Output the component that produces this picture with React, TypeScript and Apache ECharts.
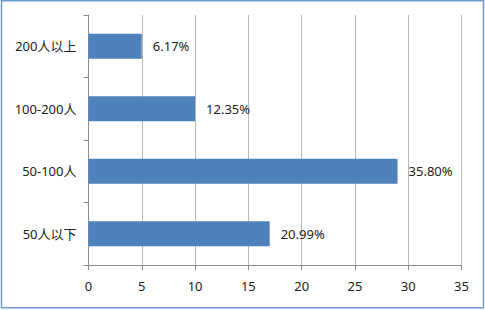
import React, { useEffect, useRef } from "react";
import * as echarts from "echarts";

const categories = ["50人以下", "50-100人", "100-200人", "200人以上"];
const values = [17, 29, 10, 5];
const percentLabels = ["20.99%", "35.80%", "12.35%", "6.17%"];
const xTicks = { min: 0, max: 35, interval: 5 };

const FONT = "'Noto Sans', 'Noto Sans CJK SC', sans-serif";

export default function App() {
  const ref = useRef<HTMLDivElement>(null);
  useEffect(() => {
    document.body.style.margin = "0";
    const chart = echarts.init(ref.current!, undefined, { renderer: "svg" });
    chart.setOption({
      animation: false,
      backgroundColor: "#ffffff",
      textStyle: { fontFamily: FONT },
      grid: { left: 88.5, right: 23.5, top: 15, bottom: 45, containLabel: false },
      graphic: [
        {
          type: "rect",
          shape: { x: 1.5, y: 0.75, width: 482, height: 307 },
          style: { fill: "none", stroke: "#6e9cd2", lineWidth: 1.5 },
          silent: true,
        },
      ],
      xAxis: {
        type: "value",
        min: xTicks.min,
        max: xTicks.max,
        interval: xTicks.interval,
        axisLine: { show: true, lineStyle: { color: "#8c8c8c" } },
        axisTick: { show: true, length: 5, lineStyle: { color: "#8c8c8c" } },
        splitLine: { show: true, lineStyle: { color: "#b8b8b8", width: 1 } },
        axisLabel: { color: "#222", fontSize: 13, margin: 14, fontFamily: FONT },
      },
      yAxis: {
        type: "category",
        data: categories,
        axisLine: { show: true, lineStyle: { color: "#8c8c8c" } },
        axisTick: { show: true, length: 5, lineStyle: { color: "#8c8c8c" } },
        axisLabel: { color: "#222", fontSize: 13, margin: 12, fontFamily: FONT },
        splitLine: { show: false },
      },
      series: [
        {
          type: "bar",
          data: values,
          barWidth: "40%",
          itemStyle: { color: "#4f81bd" },
          label: {
            show: true,
            position: "right",
            distance: 11,
            color: "#222",
            fontSize: 13,
            fontFamily: FONT,
            formatter: (p: any) => percentLabels[p.dataIndex],
          },
        },
      ],
    });
    return () => chart.dispose();
  }, []);
  return <div ref={ref} style={{ width: 485, height: 310 }} />;
}
